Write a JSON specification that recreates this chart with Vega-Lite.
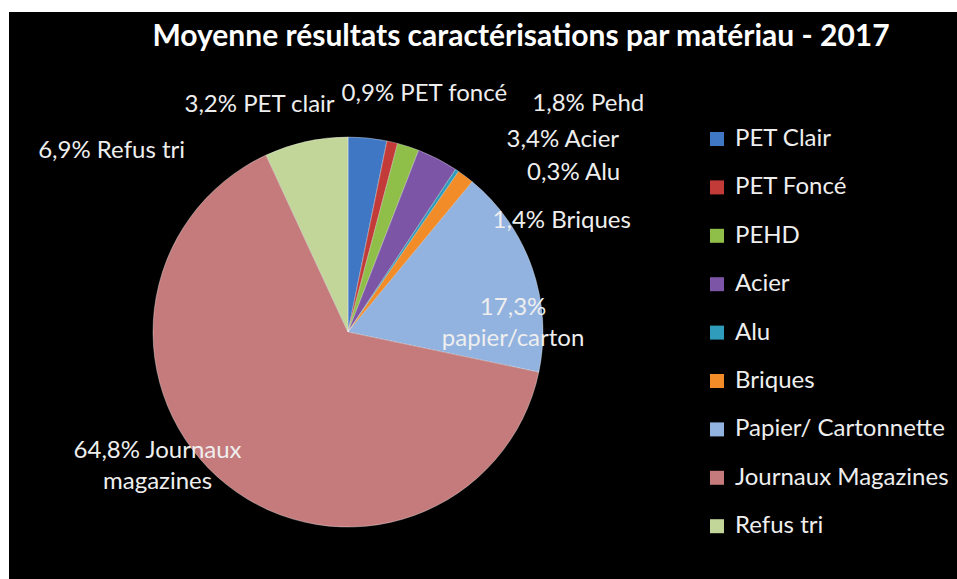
{
  "$schema": "https://vega.github.io/schema/vega-lite/v6.json",
  "width": 948,
  "height": 567,
  "autosize": {"type": "none"},
  "padding": {"left": 9, "top": 12, "right": 0, "bottom": 0},
  "background": "#ffffff",
  "view": {"fill": "#000000", "stroke": null},
  "config": {"view": {"fill": "#000000", "stroke": null}, "font": "Lato"},
  "title": {
    "text": "Moyenne résultats caractérisations par matériau - 2017",
    "color": "#ffffff",
    "font": "Lato",
    "fontSize": 30,
    "fontWeight": "bold",
    "anchor": "middle",
    "dx": 38,
    "dy": 28,
    "offset": -36,
    "baseline": "alphabetic"
  },
  "data": {
    "values": [
      {"materiau": "PET Clair", "valeur": 3.2, "ordre": 1, "etiquette": "3,2% PET clair"},
      {"materiau": "PET Foncé", "valeur": 0.9, "ordre": 2, "etiquette": "0,9% PET foncé"},
      {"materiau": "PEHD", "valeur": 1.8, "ordre": 3, "etiquette": "1,8% Pehd"},
      {"materiau": "Acier", "valeur": 3.4, "ordre": 4, "etiquette": "3,4% Acier"},
      {"materiau": "Alu", "valeur": 0.3, "ordre": 5, "etiquette": "0,3% Alu"},
      {"materiau": "Briques", "valeur": 1.4, "ordre": 6, "etiquette": "1,4% Briques"},
      {"materiau": "Papier/ Cartonnette", "valeur": 17.3, "ordre": 7, "etiquette": ["17,3%", "papier/carton"]},
      {"materiau": "Journaux Magazines", "valeur": 64.8, "ordre": 8, "etiquette": ["64,8% Journaux", "magazines"]},
      {"materiau": "Refus tri", "valeur": 6.9, "ordre": 9, "etiquette": "6,9% Refus tri"}
    ]
  },
  "transform": [
    {"stack": "valeur", "groupby": [], "sort": [{"field": "ordre", "order": "ascending"}], "as": ["v0", "v1"]},
    {"calculate": "(datum.v0 + datum.v1) / 2", "as": "mid"}
  ],
  "layer": [
    {
      "mark": {"type": "arc", "radius": 195, "x": {"expr": "width * 0.3576"}, "y": {"expr": "height * 0.5644"}, "stroke": "#ffffff", "strokeOpacity": 0.35, "strokeWidth": 1},
      "encoding": {
        "theta": {"field": "v0", "type": "quantitative", "stack": null, "scale": {"domain": [0, 100]}},
        "theta2": {"field": "v1"},
        "color": {
          "field": "materiau",
          "type": "nominal",
          "scale": {
            "domain": ["PET Clair", "PET Foncé", "PEHD", "Acier", "Alu", "Briques", "Papier/ Cartonnette", "Journaux Magazines", "Refus tri"],
            "range": ["#3F77C5", "#C23B38", "#8FBF48", "#7D55A6", "#2E9CBA", "#F28C28", "#92B2E0", "#C57B7C", "#C3D69A"]
          },
          "legend": {
            "orient": "none",
            "legendX": 696,
            "legendY": 115,
            "title": null,
            "symbolType": "square",
            "symbolSize": 196,
            "symbolStrokeWidth": 0,
            "symbolOpacity": 1,
            "labelFont": "Lato",
            "labelFontSize": 24,
            "labelColor": "#eeeeee",
            "labelOffset": 6,
            "labelLimit": 400,
            "rowPadding": 24.4,
            "padding": 0
          }
        }
      }
    },
    {
      "transform": [{"filter": "datum.materiau === 'PET Clair'"}],
      "mark": {"type": "text", "x": {"expr": "width * 0.3576"}, "y": {"expr": "height * 0.5644"}, "radius": 195, "dx": -33, "dy": -33, "align": "right", "baseline": "middle", "fontSize": 24, "color": "#eeeeee"},
      "encoding": {"theta": {"field": "mid", "type": "quantitative", "scale": {"domain": [0, 100]}}, "text": {"field": "etiquette"}}
    },
    {
      "transform": [{"filter": "datum.materiau === 'PET Foncé'"}],
      "mark": {"type": "text", "x": {"expr": "width * 0.3576"}, "y": {"expr": "height * 0.5644"}, "radius": 195, "dx": 32, "dy": -48, "align": "center", "baseline": "middle", "fontSize": 24, "color": "#eeeeee"},
      "encoding": {"theta": {"field": "mid", "type": "quantitative", "scale": {"domain": [0, 100]}}, "text": {"field": "etiquette"}}
    },
    {
      "transform": [{"filter": "datum.materiau === 'PEHD'"}],
      "mark": {"type": "text", "x": {"expr": "width * 0.3576"}, "y": {"expr": "height * 0.5644"}, "radius": 195, "dx": 124, "dy": -43, "align": "left", "baseline": "middle", "fontSize": 24, "color": "#eeeeee"},
      "encoding": {"theta": {"field": "mid", "type": "quantitative", "scale": {"domain": [0, 100]}}, "text": {"field": "etiquette"}}
    },
    {
      "transform": [{"filter": "datum.materiau === 'Acier'"}],
      "mark": {"type": "text", "x": {"expr": "width * 0.3576"}, "y": {"expr": "height * 0.5644"}, "radius": 195, "dx": 69, "dy": -19, "align": "left", "baseline": "middle", "fontSize": 24, "color": "#eeeeee"},
      "encoding": {"theta": {"field": "mid", "type": "quantitative", "scale": {"domain": [0, 100]}}, "text": {"field": "etiquette"}}
    },
    {
      "transform": [{"filter": "datum.materiau === 'Alu'"}],
      "mark": {"type": "text", "x": {"expr": "width * 0.3576"}, "y": {"expr": "height * 0.5644"}, "radius": 195, "dx": 70, "dy": 3, "align": "left", "baseline": "middle", "fontSize": 24, "color": "#eeeeee"},
      "encoding": {"theta": {"field": "mid", "type": "quantitative", "scale": {"domain": [0, 100]}}, "text": {"field": "etiquette"}}
    },
    {
      "transform": [{"filter": "datum.materiau === 'Briques'"}],
      "mark": {"type": "text", "x": {"expr": "width * 0.3576"}, "y": {"expr": "height * 0.5644"}, "radius": 195, "dx": 27, "dy": 45, "align": "left", "baseline": "middle", "fontSize": 24, "color": "#eeeeee"},
      "encoding": {"theta": {"field": "mid", "type": "quantitative", "scale": {"domain": [0, 100]}}, "text": {"field": "etiquette"}}
    },
    {
      "transform": [{"filter": "datum.materiau === 'Papier/ Cartonnette'"}],
      "mark": {"type": "text", "x": {"expr": "width * 0.3576"}, "y": {"expr": "height * 0.5644"}, "radius": 195, "dx": -19, "dy": 40, "align": "center", "baseline": "middle", "lineHeight": 31, "fontSize": 24, "color": "#eeeeee"},
      "encoding": {"theta": {"field": "mid", "type": "quantitative", "scale": {"domain": [0, 100]}}, "text": {"field": "etiquette"}}
    },
    {
      "transform": [{"filter": "datum.materiau === 'Journaux Magazines'"}],
      "mark": {"type": "text", "x": {"expr": "width * 0.3576"}, "y": {"expr": "height * 0.5644"}, "radius": 195, "dx": -69, "dy": -34, "align": "center", "baseline": "middle", "lineHeight": 31, "fontSize": 24, "color": "#eeeeee"},
      "encoding": {"theta": {"field": "mid", "type": "quantitative", "scale": {"domain": [0, 100]}}, "text": {"field": "etiquette"}}
    },
    {
      "transform": [{"filter": "datum.materiau === 'Refus tri'"}],
      "mark": {"type": "text", "x": {"expr": "width * 0.3576"}, "y": {"expr": "height * 0.5644"}, "radius": 195, "dx": -121, "dy": 9, "align": "right", "baseline": "middle", "fontSize": 24, "color": "#eeeeee"},
      "encoding": {"theta": {"field": "mid", "type": "quantitative", "scale": {"domain": [0, 100]}}, "text": {"field": "etiquette"}}
    }
  ]
}
